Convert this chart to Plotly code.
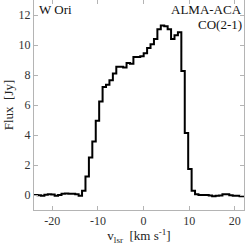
import plotly.graph_objects as go

# Channel velocities (km/s, channel centres) and flux (Jy)
velocity = [-24.35, -23.60, -22.85, -22.10, -21.35, -20.60, -19.85, -19.10, -18.35, -17.60,
            -16.85, -16.10, -15.35, -14.60, -13.85, -13.10, -12.35, -11.60, -10.85, -10.10,
            -9.35, -8.60, -7.85, -7.10, -6.35, -5.60, -4.85, -4.10, -3.35, -2.60,
            -1.85, -1.10, -0.35, 0.40, 1.15, 1.90, 2.65, 3.40, 4.15, 4.90,
            5.65, 6.40, 7.15, 7.90, 8.65, 9.40, 10.15, 10.90, 11.65, 12.40,
            13.15, 13.90, 14.65, 15.40, 16.15, 16.90, 17.65, 18.40, 19.15, 19.90,
            20.65, 21.40, 22.15]
flux = [0.0, 0.0, -0.02, -0.05, 0.02, 0.05, 0.03, -0.05, 0.0, 0.08,
        0.1, 0.08, 0.08, 0.05, -0.05, 0.29, 1.24, 2.5, 3.57, 4.95,
        6.24, 7.2, 7.35, 7.65, 8.1, 8.55, 8.55, 8.5, 8.8, 8.75,
        9.2, 9.2, 9.25, 9.45, 9.8, 10.05, 10.4, 11.05, 11.3, 11.25,
        11.05, 10.4, 10.65, 10.85, 8.27, 4.13, 1.73, 0.29, 0.05, 0.0,
        0.0, 0.0, -0.03, -0.08, -0.05, -0.03, 0.05, 0.05, -0.02, -0.05,
        -0.05, -0.08, -0.08]

x_ticks = [-20, -10, 0, 10, 20]
x_ticktext = ["-20", "-10", "0", "10", "20"]
y_ticks = [0, 2, 4, 6, 8, 10, 12]
y_ticktext = ["0", "2", "4", "6", "8", "10", "12"]

FONT = "Liberation Serif"
AX = "#b4b4b4"

fig = go.Figure()
fig.add_trace(go.Scatter(x=velocity, y=flux, mode="lines",
                         line=dict(color="black", width=2, shape="hvh"),
                         showlegend=False, hoverinfo="skip"))

axis_common = dict(showgrid=False, zeroline=False, showline=True, linecolor=AX, linewidth=1,
                   mirror="ticks", ticks="inside", ticklen=4, tickcolor=AX, tickwidth=1,
                   tickfont=dict(family=FONT, size=12, color="#333333"))

fig.update_layout(
    width=246, height=245, autosize=False,
    margin=dict(l=34, r=2, t=0, b=35),
    paper_bgcolor="white", plot_bgcolor="white",
    font=dict(family=FONT, size=12, color="#222222"),
    xaxis=dict(range=[-24, 22], tickvals=x_ticks, ticktext=x_ticktext,
               title=dict(text="v<sub>lsr</sub>  [km s<sup>-1</sup>]", standoff=2,
                          font=dict(family=FONT, size=13, color="#222222")),
               **axis_common),
    yaxis=dict(range=[-1, 13], tickvals=y_ticks, ticktext=y_ticktext,
               title=dict(text="Flux  [Jy]", standoff=2,
                          font=dict(family=FONT, size=13, color="#222222")),
               **axis_common),
    annotations=[
        dict(text="W Ori", xref="paper", yref="paper", x=0.02, y=1, xanchor="left",
             yanchor="top", yshift=-1, showarrow=False, borderpad=0,
             font=dict(family=FONT, size=13, color="#111111")),
        dict(text="ALMA-ACA", xref="paper", yref="paper", x=1, y=1, xanchor="right",
             yanchor="top", xshift=-1, yshift=-1, showarrow=False, borderpad=0,
             font=dict(family=FONT, size=13, color="#111111")),
        dict(text="CO(2-1)", xref="paper", yref="paper", x=1, y=1, xanchor="right",
             yanchor="top", xshift=-1, yshift=-16, showarrow=False, borderpad=0,
             font=dict(family=FONT, size=13, color="#111111")),
    ],
)

fig.write_html("out.html", config={"displayModeBar": False},
               post_script="document.body.style.margin='0';")
